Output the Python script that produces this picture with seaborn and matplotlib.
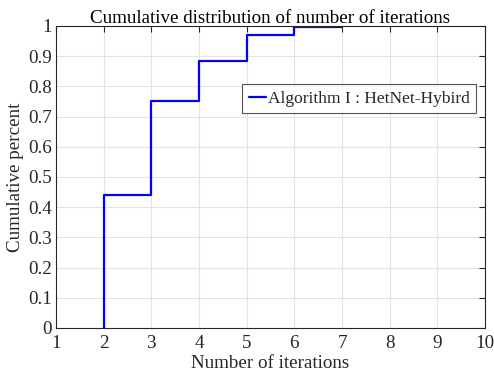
import matplotlib
matplotlib.use("Agg")
import matplotlib.pyplot as plt
import seaborn as sns
import pandas as pd

iterations = [2, 2, 3, 4, 5, 6, 7]
cum_percent = [0.0, 0.44, 0.75, 0.885, 0.97, 0.995, 0.995]
series_label = "Algorithm I : HetNet-Hybird"
x_ticks = [1, 2, 3, 4, 5, 6, 7, 8, 9, 10]
y_ticks = [0, 0.1, 0.2, 0.3, 0.4, 0.5, 0.6, 0.7, 0.8, 0.9, 1]

sns.set_style("white")
plt.rcParams['font.family'] = ['Liberation Serif', 'DejaVu Serif']
plt.rcParams['mathtext.fontset'] = 'stix'

df = pd.DataFrame({"x": iterations, "y": cum_percent, "s": series_label})

fs = 13.7
fig = plt.figure(figsize=(4.94, 3.76), dpi=100)
ax = fig.add_axes([0.1134, 0.1277, 0.8684, 0.8032])
sns.lineplot(data=df, x="x", y="y", hue="s", palette=["#0000ff"], estimator=None,
             sort=False, drawstyle="steps-post", linewidth=1.6, ax=ax)

ax.set_xlim(1, 10)
ax.set_ylim(0, 1)
ax.set_xticks(x_ticks)
ax.set_xticklabels([str(t) for t in x_ticks])
ax.set_yticks(y_ticks)
ax.set_yticklabels(["0" if t == 0 else ("1" if t == 1 else f"{t:g}") for t in y_ticks])
ax.grid(True, color="#e3e3e3", linewidth=0.8)
for sp in ax.spines.values():
    sp.set_visible(True)
    sp.set_color("#262626")
    sp.set_linewidth(0.8)
ax.tick_params(direction="in", length=4, width=0.8, color="#262626", labelsize=fs,
               labelcolor="#262626", top=True, right=True, pad=3)
ax.tick_params(axis="x", pad=5)
ax.set_xlabel("Number of iterations", fontsize=fs, color="#262626", labelpad=2)
ax.set_ylabel("Cumulative percent", fontsize=fs, color="#262626", labelpad=3)
ax.set_title("Cumulative distribution of number of iterations", fontsize=fs,
             color="black", pad=2)

leg = ax.legend(loc="upper right", bbox_to_anchor=(0.9645, 0.7766),
                bbox_transform=fig.transFigure, frameon=True, fancybox=False,
                fontsize=12.5, handlelength=1.0, handletextpad=0.12, borderpad=0.38,
                borderaxespad=0)
leg.get_frame().set_edgecolor("#262626")
leg.get_frame().set_linewidth(0.8)

fig.savefig("out.png", dpi=100)
